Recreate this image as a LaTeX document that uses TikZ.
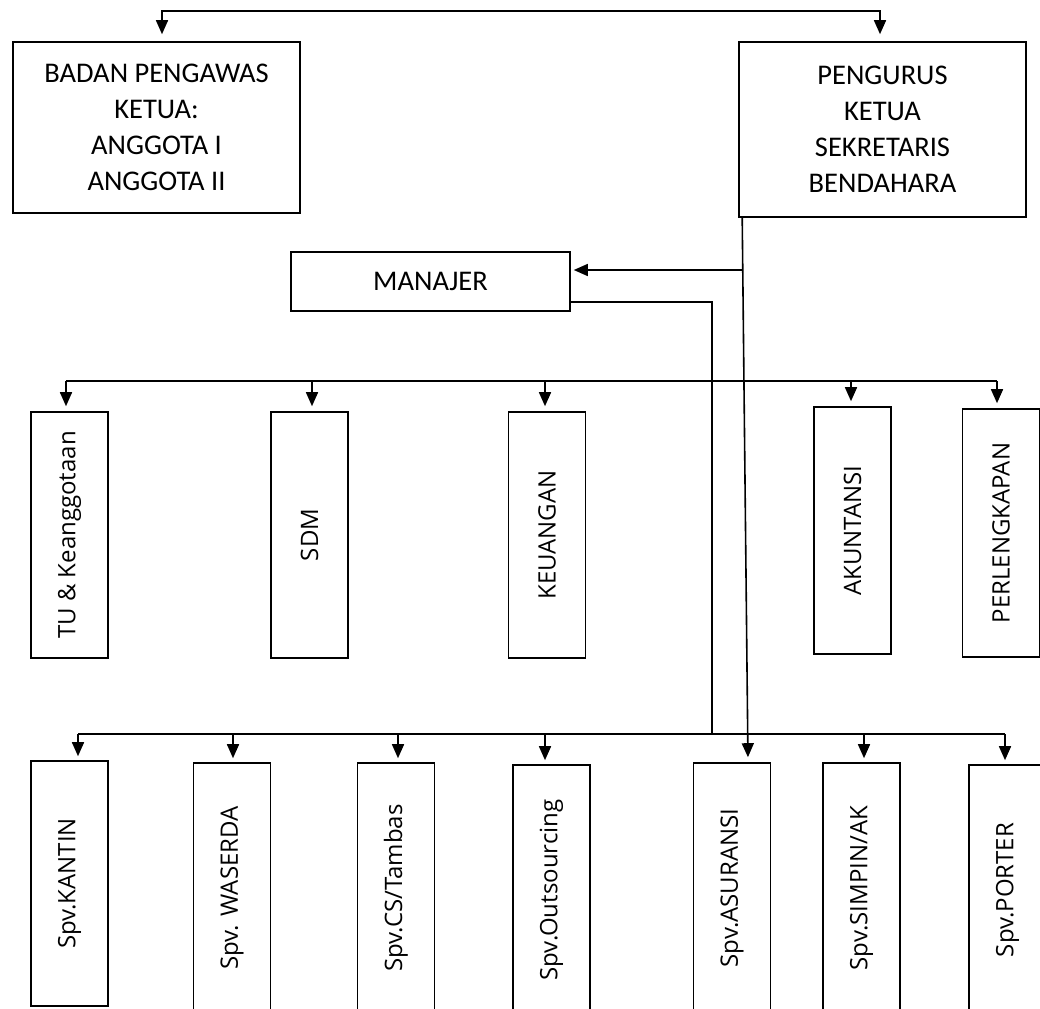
\documentclass[tikz,border=0pt]{standalone}
\usepackage{fontspec}
\setmainfont{Carlito}
\newfontfamily\rotfont{Open Sans}
\usetikzlibrary{arrows.meta}

\begin{document}
\begin{tikzpicture}[x=1pt,y=-1pt,
  line width=1.6pt,
  arr/.style={-{Triangle[length=14pt,width=12pt]}},
  topbox/.style={draw, align=center, inner sep=0pt,
    font=\fontsize{28.5}{36}\selectfont},
  vbox/.style={draw, rotate=90, inner sep=0pt, minimum height=77pt,
    minimum width=#1, font=\rotfont\fontsize{24}{28}\selectfont},
  vbox/.default=246pt
]
\useasboundingbox (0,0) rectangle (1040,1008);
\clip (0,0) rectangle (1040,1008);

% upper level
\node[topbox, minimum width=287pt, minimum height=171pt] (badan) at (156.5,127.5)
  {BADAN PENGAWAS\\KETUA:\\ANGGOTA I\\ANGGOTA II};
\node[topbox, minimum width=287pt, minimum height=175pt] (pengurus) at (882.5,129.5)
  {PENGURUS\\KETUA\\SEKRETARIS\\BENDAHARA};
\node[topbox, minimum width=279pt, minimum height=59pt] (manajer) at (430.5,281.5)
  {MANAJER};

% sections (rotated: the east anchor is the top edge)
\node[vbox] (tu) at (69.5,535) {TU \& Keanggotaan};
\node[vbox] (sdm) at (309.5,535) {SDM};
\node[vbox] (keu) at (547,535) {KEUANGAN};
\node[vbox=247pt] (aku) at (852.5,530.5) {AKUNTANSI};
\node[vbox=248pt] (perl) at (1001,533) {PERLENGKAPAN};

% supervisors
\node[vbox=245pt] (kantin) at (69.5,883.5) {Spv.KANTIN};
\node[vbox=250pt] (waserda) at (232,888) {Spv. WASERDA};
\node[vbox=250pt] (cs) at (396,888) {Spv.CS/Tambas};
\node[vbox=250pt] (outs) at (551.5,890) {Spv.Outsourcing};
\node[vbox=250pt] (asur) at (732,888) {Spv.ASURANSI};
\node[vbox=250pt] (simpin) at (861.5,888) {Spv.SIMPIN/AK};
\node[vbox=250pt] (porter) at (1007.5,890) {Spv.PORTER};

% top connector
\coordinate (tl) at (162,11);
\coordinate (tr) at (880,11);
\draw[{Triangle[length=14pt,width=12pt]}-{Triangle[length=14pt,width=12pt]},
  shorten <=7pt, shorten >=7pt]
  (tl |- badan.north) -- (tl) -- (tr) -- (tr |- pengurus.north);

% pengurus line down to Spv.ASURANSI
\draw[arr, shorten >=5pt] ([xshift=4pt]pengurus.south west) -- (748,0 |- asur.east);

% pengurus to manajer
\coordinate (pm) at (743.3,270);
\draw[arr, shorten >=3pt] (pm) -- (manajer.east |- pm);

% manajer to supervisors
\coordinate (mr) at (712,302);
\coordinate (mb) at (712,734);
\draw (manajer.east |- mr) -- (mr) -- (mb);

% section bus
\coordinate (s1) at (66,381);
\coordinate (s2) at (997,381);
\draw (s1) -- (s2);
\foreach \n/\x in {tu/66, sdm/312, keu/545, aku/851, perl/997}
  \draw[arr, shorten >=5pt] (\x,381) -- (\x,381 |- \n.east);

% supervisor bus
\coordinate (u1) at (78,734);
\coordinate (u2) at (1005,734);
\draw (u1) -- (u2);
\foreach \n/\x in {kantin/78, waserda/233, cs/398, outs/545, simpin/864, porter/1005}
  \draw[arr, shorten >=4pt] (\x,734) -- (\x,734 |- \n.east);
\end{tikzpicture}
\end{document}
